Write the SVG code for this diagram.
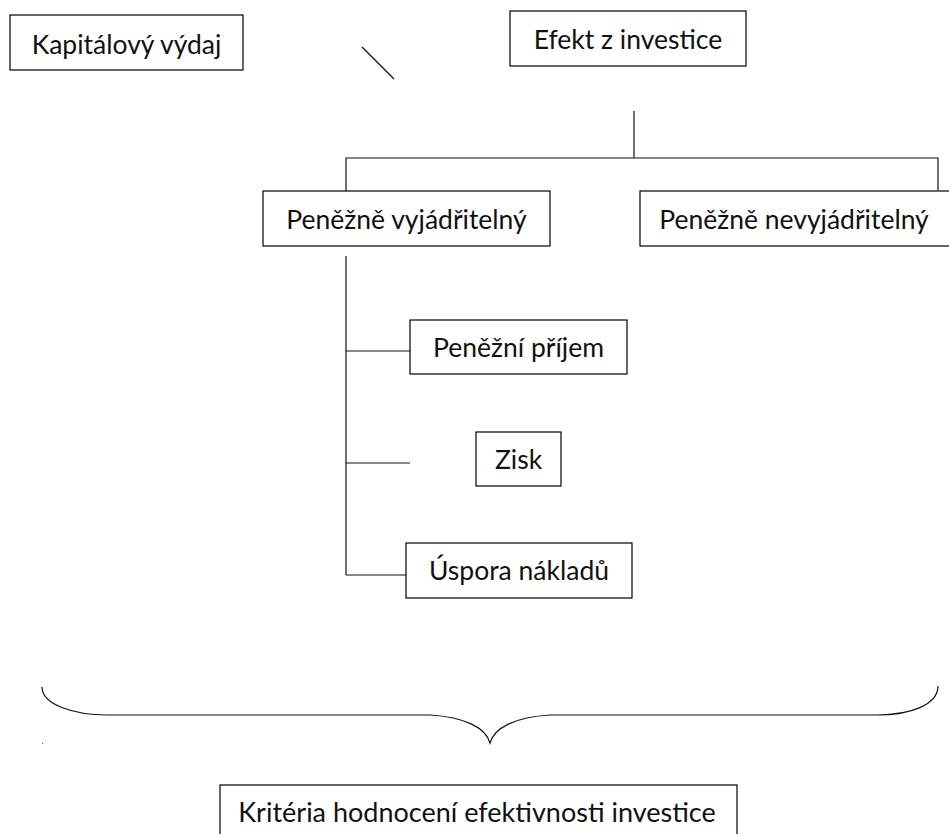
<svg xmlns="http://www.w3.org/2000/svg" width="949" height="834" viewBox="0 0 949 834">
<style>
.box{fill:#fff;stroke:#000;stroke-width:1.2}
.t{font-family:Lato,"Liberation Sans",sans-serif;font-size:26.5px;fill:#111;text-anchor:middle}
.c{fill:none;stroke:#111;stroke-width:1.2}
</style>
<rect width="949" height="834" fill="#fff"/>
<g id="connectors">
<line class="c" x1="362" y1="47" x2="394" y2="79"/>
<line class="c" x1="634" y1="111" x2="634" y2="158"/>
<polyline class="c" points="346,191 346,158 938,158 938,190"/>
<line class="c" x1="346" y1="256" x2="346" y2="575"/>
<line class="c" x1="346" y1="351" x2="410" y2="351"/>
<line class="c" x1="346" y1="463" x2="410" y2="463"/>
<line class="c" x1="346" y1="575" x2="406" y2="575"/>
<path class="c" d="M42,687 C42,705 75,715 107,715 L430,715 C465,717 486,728 490,743 C494,728 515,717 550,715 L877,715 C910,715 938,705 938,686"/>
<rect x="42" y="743" width="1" height="1" fill="#555"/>
</g>
<g id="kapitalovy">
<rect class="box" x="10" y="15" width="233" height="55"/>
<text class="t" x="126.5" y="54">Kapitálový výdaj</text>
</g>
<g id="efekt">
<rect class="box" x="510" y="11" width="236" height="55"/>
<text class="t" x="628" y="49">Efekt z investice</text>
</g>
<g id="vyjadritelny">
<rect class="box" x="263" y="191" width="287" height="55"/>
<text class="t" x="406.5" y="229">Peněžně vyjádřitelný</text>
</g>
<g id="nevyjadritelny">
<rect class="box" x="640" y="191" width="315" height="55"/>
<text class="t" x="794" y="229">Peněžně nevyjádřitelný</text>
</g>
<g id="prijem">
<rect class="box" x="410" y="320" width="217" height="54"/>
<text class="t" x="518.5" y="357">Peněžní příjem</text>
</g>
<g id="zisk">
<rect class="box" x="476" y="432" width="85" height="54"/>
<text class="t" x="518.5" y="469">Zisk</text>
</g>
<g id="uspora">
<rect class="box" x="406" y="543" width="226" height="55"/>
<text class="t" x="519" y="580">Úspora nákladů</text>
</g>
<g id="kriteria">
<rect class="box" x="220" y="785" width="517" height="60"/>
<text class="t" x="477" y="822" style="font-size:27px">Kritéria hodnocení efektivnosti investice</text>
</g>
</svg>
